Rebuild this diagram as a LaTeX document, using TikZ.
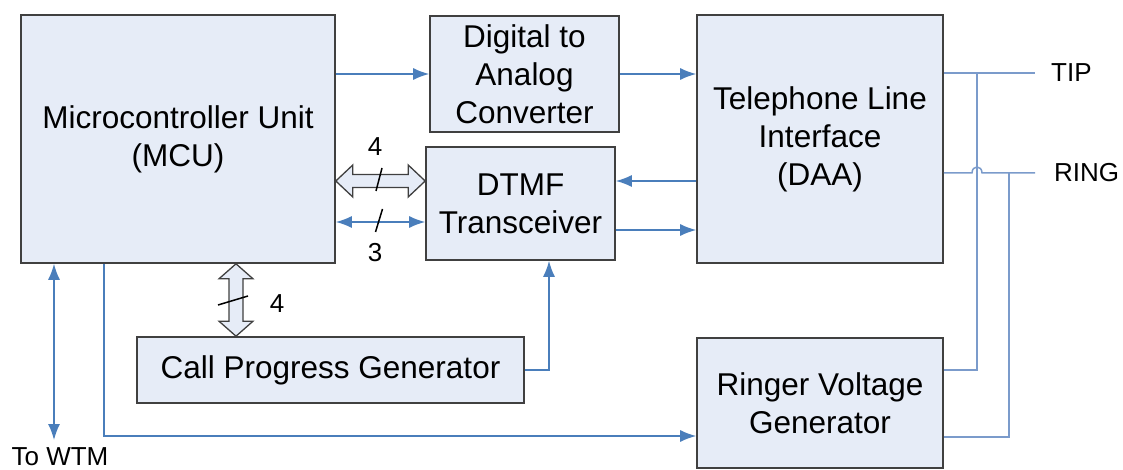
\documentclass[tikz,border=0pt]{standalone}
\usepackage{fontspec}
\setmainfont{Liberation Sans}
\usetikzlibrary{arrows.meta,calc}
\definecolor{boxfill}{HTML}{E6ECF7}
\definecolor{boxline}{HTML}{404040}
\definecolor{wire}{HTML}{4A7EBB}
\definecolor{wirelt}{HTML}{7B9BCB}
\begin{document}
\begin{tikzpicture}[x=1pt,y=-1pt,
  blk/.style={draw=boxline,fill=boxfill,line width=1.6pt,inner sep=0pt,align=center,
    font=\fontsize{31.5}{38}\selectfont},
  lbl/.style={inner sep=0pt,font=\fontsize{26}{30}\selectfont},
  wa/.style={draw=wire,line width=1.5pt,-{Latex[length=16pt,width=12pt]}},
  wab/.style={draw=wire,line width=1.5pt,{Latex[length=16pt,width=12pt]}-{Latex[length=16pt,width=12pt]}},
  wl/.style={draw=wirelt,line width=1.5pt},
  bus/.style={draw=boxline,fill=boxfill,line width=1.3pt,line join=miter},
  slashln/.style={draw=black,line width=1.5pt}]
\useasboundingbox (0,0) rectangle (1123,470);

% blocks
\node[blk,minimum width=314pt,minimum height=248pt] (mcu) at (178,139) {Microcontroller Unit\\(MCU)};
\node[blk,minimum width=189pt,minimum height=116pt] (dac) at (524.5,74) {Digital to\\Analog\\Converter};
\node[blk,minimum width=246pt,minimum height=248pt] (daa) at (820,139) {Telephone Line\\Interface\\(DAA)};
\node[blk,minimum width=189pt,minimum height=113pt] (dtmf) at (520.5,203.5) {DTMF\\Transceiver};
\node[blk,minimum width=387pt,minimum height=66pt] (cpg) at (330.5,370) {Call Progress Generator};
\node[blk,minimum width=246pt,minimum height=130pt] (ringer) at (820,403) {Ringer Voltage\\Generator};

% labels
\node[lbl] (n4a) at (375,147) {4};
\node[lbl] (n3) at (375,253) {3};
\node[lbl] (n4b) at (277,304) {4};
\node[lbl,anchor=base,font=\fontsize{26}{30}\selectfont] (wtmlbl) at (60,465) {To WTM};
\node[lbl,anchor=west] (tip) at (1051,73) {TIP};
\node[lbl,anchor=west] (ring) at (1054,173) {RING};

% MCU -> DAC -> DAA
\draw[wa] (mcu.east |- dac.west) -- (dac.west);
\draw[wa] (dac.east) -- (dac.east -| daa.west);

% DAA <-> DTMF
\draw[wa] ($(daa.west)+(0,42)$) coordinate (r1) -- (dtmf.east |- r1);
\draw[wa] ($(dtmf.east)+(0,26.5)$) coordinate (t1) -- (daa.west |- t1);

% 4-bit bus MCU <-> DTMF
\coordinate (ba) at ($(mcu.east)+(0,42)$);
\coordinate (bb) at (dtmf.west |- ba);
\draw[bus] (ba) -- ++(17,-16) -- ++(0,9.5) -- ($(bb)+(-17,-6.5)$) -- ++(0,-9.5) -- (bb)
  -- ++(-17,16) -- ++(0,-9.5) -- ($(ba)+(17,6.5)$) -- ++(0,9.5) -- cycle;
\draw[slashln] (376,191) -- (382,168);

% 3-line link MCU <-> DTMF
\coordinate (ta) at ($(mcu.east)+(0,83)$);
\draw[wab] (ta) -- (dtmf.west |- ta);
\draw[slashln] (375.5,232) -- (382.5,209);

% 4-bit bus MCU <-> CPG
\coordinate (va) at ($(mcu.south)+(58,0)$);
\coordinate (vb) at (va |- cpg.north);
\draw[bus] (va) -- ++(-17,15) -- ++(10,0) -- ($(vb)+(-7,-15)$) -- ++(-10,0) -- (vb)
  -- ++(17,-15) -- ++(-10,0) -- ($(va)+(7,15)$) -- ++(10,0) -- cycle;
\draw[slashln] (218,305) -- (248,296);

% CPG -> DTMF
\draw[wa] (cpg.east) -| ($(dtmf.south)+(28.5,0)$);

% To WTM
\coordinate (wtm) at (54,440);
\draw[wab] (mcu.south -| wtm) -- (wtm);

% MCU -> Ringer
\draw[wa] ($(mcu.south)+(-74,0)$) |- ($(ringer.west)+(0,33)$);

% TIP / RING lines
\coordinate (tipend) at (1035,73);
\coordinate (ringend) at (1035,173);
\draw[wl] (daa.east |- tipend) -- (tipend);
\draw[wl] (daa.east |- ringend) -- (972,173) .. controls (972,165) and (982,165) .. (982,173) -- (ringend);
\coordinate (j1) at (977,73);
\coordinate (j2) at (1009,173);
\draw[wl] (j1) |- ($(ringer.east)+(0,-33)$);
\draw[wl] (j2) |- ($(ringer.east)+(0,34)$);
\end{tikzpicture}
\end{document}
